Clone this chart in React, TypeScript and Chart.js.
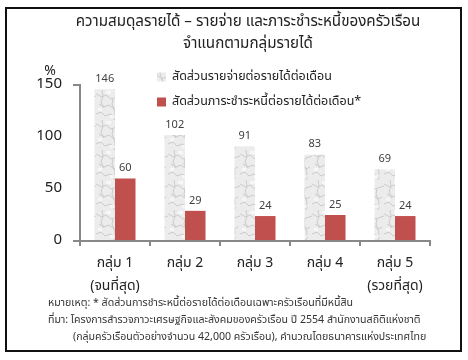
import React, { useEffect, useRef } from "react";
import { Chart, registerables } from "chart.js";

Chart.register(...registerables);

const titleLines = ["ความสมดุลรายได้ – รายจ่าย และภาระชำระหนี้ของครัวเรือน", "จำแนกตามกลุ่มรายได้"];
const categories: string[][] = [["กลุ่ม 1", "(จนที่สุด)"], ["กลุ่ม 2"], ["กลุ่ม 3"], ["กลุ่ม 4"], ["กลุ่ม 5", "(รวยที่สุด)"]];
const seriesNames = ["สัดส่วนรายจ่ายต่อรายได้ต่อเดือน", "สัดส่วนภาระชำระหนี้ต่อรายได้ต่อเดือน*"];
const expenseRatio = [146, 102, 91, 83, 69];
const debtRatio = [60, 29, 24, 25, 24];
const yTicks = [0, 50, 100, 150];
const yUnit = "%";
const notes = [
  "หมายเหตุ: * สัดส่วนการชำระหนี้ต่อรายได้ต่อเดือนเฉพาะครัวเรือนที่มีหนี้สิน",
  "ที่มา: โครงการสำรวจภาวะเศรษฐกิจและสังคมของครัวเรือน ปี 2554 สำนักงานสถิติแห่งชาติ",
  "(กลุ่มครัวเรือนตัวอย่างจำนวน 42,000 ครัวเรือน), คำนวณโดยธนาคารแห่งประเทศไทย",
];

const FONT = "Tahoma, 'Noto Sans Thai', 'Noto Sans', 'DejaVu Sans', sans-serif";
const RED = "#c0504d";

function makeMarble(): CanvasPattern | string {
  const c = document.createElement("canvas");
  c.width = 24;
  c.height = 30;
  const g = c.getContext("2d");
  if (!g) return "#e0e0e0";
  g.fillStyle = "#ececec";
  g.fillRect(0, 0, 24, 30);
  g.strokeStyle = "#cbcbcb";
  g.lineWidth = 1;
  const veins: number[][] = [
    [0, 4, 6, 7, 10, 5, 15, 9, 24, 6],
    [3, 14, 8, 17, 13, 15, 18, 19, 22, 17],
    [0, 24, 5, 22, 9, 26, 14, 24, 20, 28],
    [6, 0, 7, 6, 5, 12, 8, 18],
    [17, 9, 16, 14, 19, 22, 18, 30],
  ];
  veins.forEach((v) => {
    g.beginPath();
    g.moveTo(v[0], v[1]);
    for (let i = 2; i < v.length; i += 2) g.lineTo(v[i], v[i + 1]);
    g.stroke();
  });
  g.fillStyle = "rgba(255,255,255,0.6)";
  g.fillRect(10, 1, 5, 3);
  g.fillRect(2, 18, 4, 3);
  g.fillRect(14, 25, 5, 3);
  const p = g.createPattern(c, "repeat");
  return p || "#e0e0e0";
}

export default function App() {
  const ref = useRef<HTMLCanvasElement>(null);
  useEffect(() => {
    if (!ref.current) return;
    const marble = makeMarble();
    const overlay = {
      id: "overlay",
      afterDatasetsDraw(chart: any) {
        const ctx = chart.ctx;
        const ca = chart.chartArea;
        ctx.save();
        ctx.font = `11px ${FONT}`;
        ctx.fillStyle = "#404040";
        ctx.textAlign = "center";
        ctx.textBaseline = "bottom";
        chart.data.datasets.forEach((ds: any, di: number) => {
          const meta = chart.getDatasetMeta(di);
          meta.data.forEach((bar: any, i: number) => {
            ctx.fillText(String(ds.data[i]), bar.x, bar.y - 4);
          });
        });
        ctx.font = `14px ${FONT}`;
        ctx.fillStyle = "#222";
        ctx.textBaseline = "middle";
        ctx.fillText(yUnit, ca.left - 30, ca.top - 13);
        ctx.textAlign = "left";
        ctx.font = `12.5px ${FONT}`;
        chart.data.datasets.forEach((ds: any, di: number) => {
          const y = ca.top - 8 + di * 25;
          ctx.fillStyle = ds.backgroundColor;
          ctx.fillRect(ca.left + 77, y - 4.5, 9, 9);
          ctx.fillStyle = "#222";
          ctx.fillText(ds.label, ca.left + 92, y);
        });
        ctx.restore();
      },
    };
    const chart = new Chart(ref.current, {
      type: "bar",
      data: {
        labels: categories,
        datasets: [
          { label: seriesNames[0], data: expenseRatio, backgroundColor: marble as any, borderWidth: 0 },
          { label: seriesNames[1], data: debtRatio, backgroundColor: RED, borderWidth: 0 },
        ],
      },
      options: {
        responsive: false,
        animation: false,
        devicePixelRatio: 1,
        layout: { padding: { left: 0, right: 38, top: 85, bottom: 0 } },
        plugins: { legend: { display: false }, title: { display: false }, tooltip: { enabled: false } },
        datasets: { bar: { categoryPercentage: 0.586, barPercentage: 1 } },
        scales: {
          x: {
            grid: { drawOnChartArea: false, drawTicks: true, tickLength: 5, color: "#888", lineWidth: 2, offset: true },
            border: { display: true, color: "#888", width: 2 },
            ticks: { color: "#222", font: { family: FONT, size: 14, lineHeight: 1.65 }, padding: 7, maxRotation: 0, autoSkip: false },
            afterFit: (s: any) => { s.height = 59; },
          },
          y: {
            min: 0,
            max: 150,
            afterBuildTicks: (s: any) => { s.ticks = yTicks.map((v) => ({ value: v })); },
            grid: {
              drawOnChartArea: false,
              drawTicks: true,
              tickLength: 7,
              lineWidth: 2,
              color: (c: any) => (c.tick && (c.tick.value === 150 || c.tick.value === 0) ? "#888" : "rgba(0,0,0,0)"),
            },
            border: { display: true, color: "#888", width: 2 },
            ticks: { color: "#222", font: { family: FONT, size: 15 }, padding: 11 },
            afterFit: (s: any) => { s.width = 80; },
          },
        },
      },
      plugins: [overlay],
    });
    return () => chart.destroy();
  }, []);

  return (
    <div style={{ position: "absolute", left: 0, top: 0, width: 468, height: 360, background: "#fff", fontFamily: FONT, overflow: "hidden" }}>
      <canvas ref={ref} width={468} height={300} style={{ position: "absolute", left: 0, top: 0 }} />
      <div style={{ position: "absolute", left: 5, top: 7, width: 453, height: 341, border: "2px solid #111" }} />
      {titleLines.map((t, i) => (
        <div key={i} style={{ position: "absolute", left: 0, width: 496, top: 11 + i * 22, textAlign: "center", fontSize: 15.2, lineHeight: "22px", color: "#222", whiteSpace: "nowrap" }}>{t}</div>
      ))}
      {notes.map((t, i) => (
        <div key={"n" + i} style={{ position: "absolute", left: i === 2 ? 73 : 48, top: 295 + i * 17, fontSize: 10.6, lineHeight: "17px", color: "#333", whiteSpace: "nowrap" }}>{t}</div>
      ))}
    </div>
  );
}
